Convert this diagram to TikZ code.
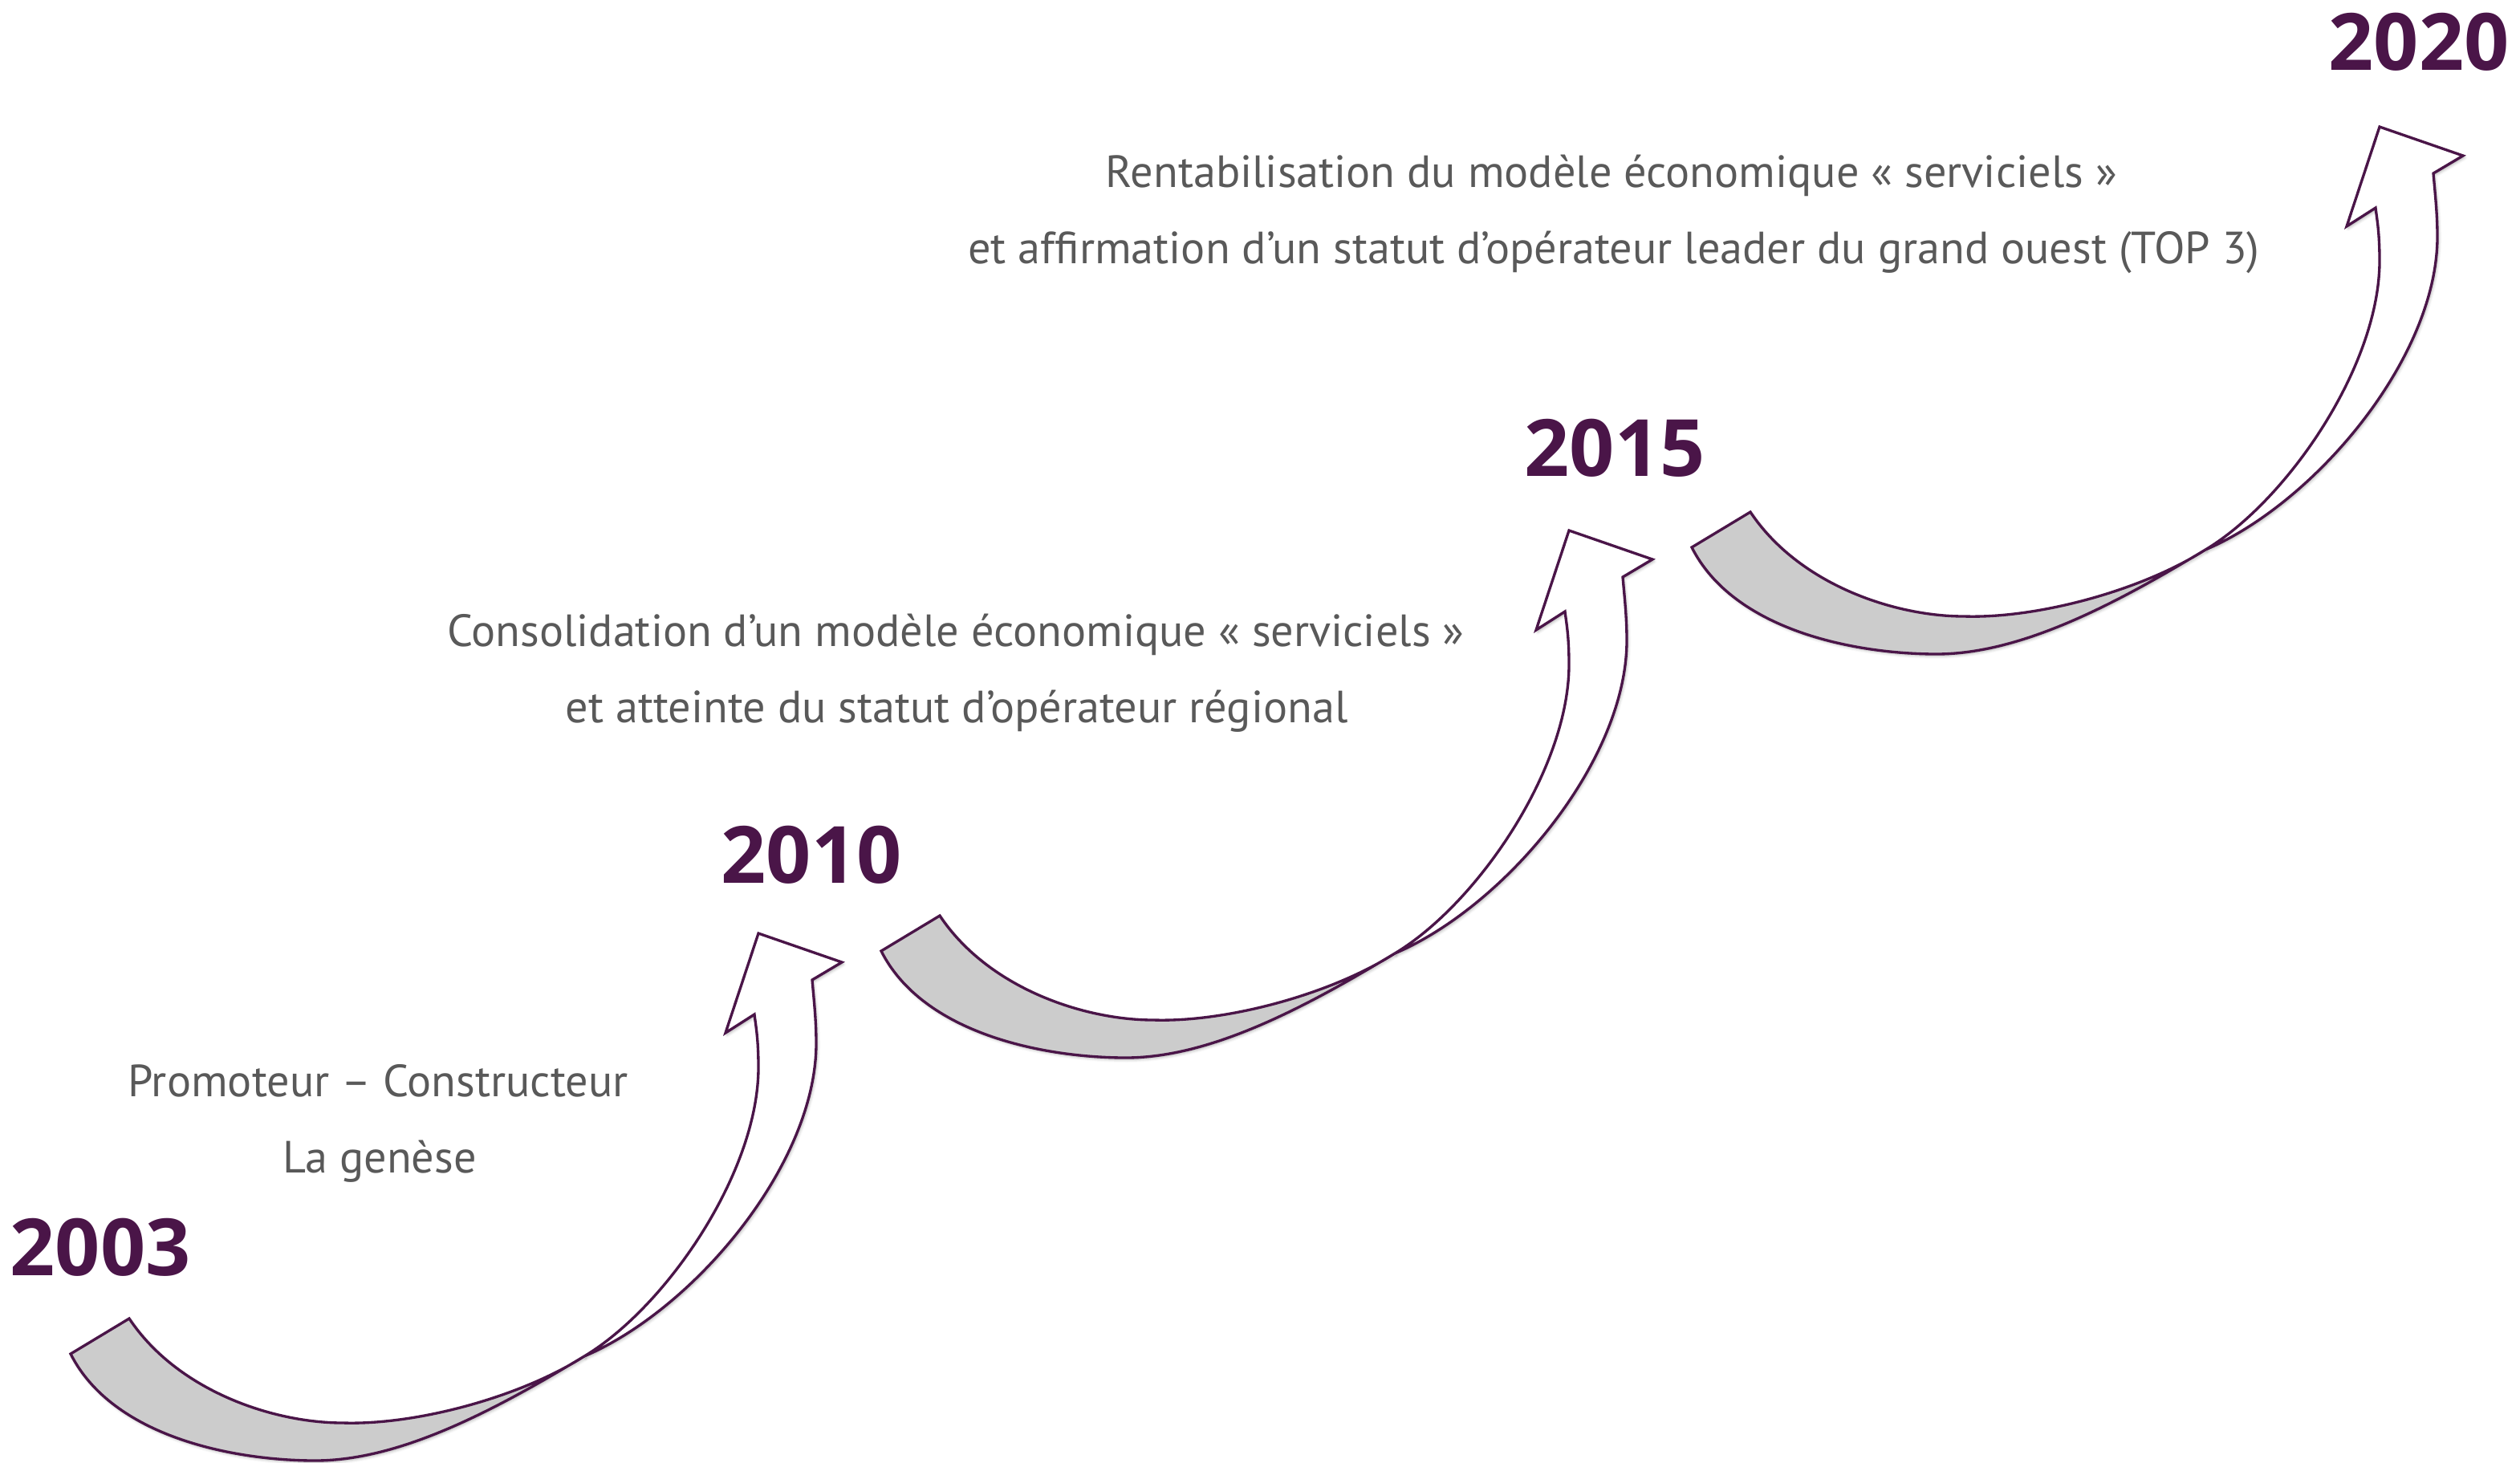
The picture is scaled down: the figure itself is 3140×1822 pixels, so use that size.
\documentclass[tikz,border=0pt]{standalone}
\usepackage{fontspec}
\setmainfont{PT Sans}
\newfontfamily\yearfont{Open Sans}
\usetikzlibrary{shadows.blur}
\definecolor{plum}{HTML}{4A1548}
\definecolor{ribbongrey}{HTML}{CCCCCC}
\definecolor{textgrey}{HTML}{595959}
\tikzset{
  yearlabel/.style ={text=plum, font=\yearfont\bfseries\fontsize{28}{30}\selectfont,
                     inner sep=0pt},
  steptext/.style  ={text=textgrey, font=\fontsize{16}{19}\selectfont,
                     inner sep=0pt, anchor=base},
  ribbonline/.style={draw=plum, line width=0.95pt,
                     blur shadow={shadow xshift=0.5pt, shadow yshift=-0.7pt,
                                  shadow blur radius=1pt, shadow opacity=30}},
  twistarrow/.pic={
    % back face: tail up to the point where both edges cross
    \path[ribbonline, fill=ribbongrey] (88,1687)
        .. controls (140,1790) and (290,1820) .. (393,1820)
        .. controls (500,1820) and (618,1756) .. (728,1690)
        .. controls (650,1740) and (520,1776) .. (427,1773)
        .. controls (340,1773) and (221,1733) .. (161,1643) -- cycle;
    % front face and head
    \path[ribbonline, fill=white] (728,1690)
        .. controls (866,1631) and (1017,1450) .. (1017,1300)
        .. controls (1017,1270) and (1014,1245) .. (1012,1221)
        -- (1049,1199) -- (945,1163) -- (904,1287) -- (940,1264)
        .. controls (942,1280) and (945,1295) .. (945,1330)
        .. controls (945,1460) and (831,1628) .. cycle;
  }
}
\begin{document}
\begin{tikzpicture}[x=0.1mm,y=-0.1mm]
  \useasboundingbox (0,0) rectangle (3140,1822);

  % three steps, each one shifted up and to the right
  \pic at (0,0) {twistarrow};
  \pic at (1010,-502) {twistarrow};
  \pic at (2020,-1005) {twistarrow};

  \node[yearlabel] (y2003) at (125,1554) {2003};
  \node[yearlabel] (y2010) at (1011,1065) {2010};
  \node[yearlabel] (y2015) at (2012,558) {2015};
  \node[yearlabel] (y2020) at (3014,52) {2020};

  \node[steptext] (genese1) at (471,1366) {Promoteur – Constructeur};
  \node[steptext] (genese2) at (473,1461) {La genèse};
  \node[steptext] (region1) at (1191,805) {Consolidation d’un modèle économique « serviciels »};
  \node[steptext] (region2) at (1192,900) {et atteinte du statut d’opérateur régional};
  \node[steptext] (leader1) at (2008,233) {Rentabilisation du modèle économique « serviciels »};
  \node[steptext] (leader2) at (2011,328) {et affirmation d’un statut d’opérateur leader du grand ouest (TOP 3)};
\end{tikzpicture}
\end{document}
